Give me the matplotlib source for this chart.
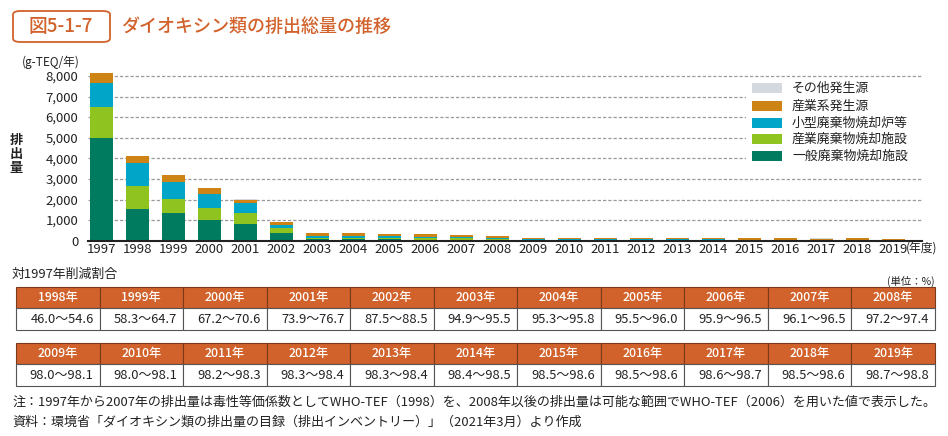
import matplotlib.pyplot as plt
from matplotlib.patches import Rectangle, FancyBboxPatch
import numpy as np

plt.rcParams['font.family'] = ['Noto Sans CJK JP', 'DejaVu Sans']

# データ (g-TEQ/年)
years = list(range(1997, 2020))
ippan = [5000, 1550, 1350, 1019, 812, 370, 71, 64, 62, 54, 52, 36, 33, 33, 32, 30, 29, 27, 25, 24, 23, 22, 21]
sangyo_haiki = [1505, 1100, 690, 555, 533, 265, 75, 70, 73, 60, 56, 30, 25, 25, 24, 23, 22, 21, 20, 19, 19, 19, 18]
kogata = [1150, 1130, 820, 710, 480, 120, 105, 95, 90, 85, 80, 50, 17, 17, 15, 14, 13, 12, 11, 11, 10, 10, 9]
sangyokei = [470, 330, 330, 257, 175, 165, 140, 125, 115, 105, 105, 95, 75, 75, 65, 62, 62, 58, 53, 55, 52, 60, 48]
sonota = [7, 7, 7, 7, 7, 6, 6, 6, 5, 5, 5, 5, 4, 4, 4, 4, 4, 4, 4, 4, 4, 4, 4]

series_names = ['一般廃棄物焼却施設', '産業廃棄物焼却施設', '小型廃棄物焼却炉等', '産業系発生源', 'その他発生源']
series_vals = [ippan, sangyo_haiki, kogata, sangyokei, sonota]
colors = ['#007b5f', '#8fc31f', '#00a5c8', '#cd8415', '#d3d9df']

# 対1997年削減割合 (%)
tbl_years_1 = ['1998年', '1999年', '2000年', '2001年', '2002年', '2003年', '2004年', '2005年', '2006年', '2007年', '2008年']
tbl_vals_1 = ['46.0〜54.6', '58.3〜64.7', '67.2〜70.6', '73.9〜76.7', '87.5〜88.5', '94.9〜95.5',
              '95.3〜95.8', '95.5〜96.0', '95.9〜96.5', '96.1〜96.5', '97.2〜97.4']
tbl_years_2 = ['2009年', '2010年', '2011年', '2012年', '2013年', '2014年', '2015年', '2016年', '2017年', '2018年', '2019年']
tbl_vals_2 = ['98.0〜98.1', '98.0〜98.1', '98.2〜98.3', '98.3〜98.4', '98.3〜98.4', '98.4〜98.5',
              '98.5〜98.6', '98.5〜98.6', '98.6〜98.7', '98.5〜98.6', '98.7〜98.8']

W, H = 948, 436
ORANGE = '#d2622b'
TXT = '#222222'


def fx(x):
    return x / W


def fy(y):
    return 1 - y / H


fig = plt.figure(figsize=(W / 100, H / 100), dpi=100)

# タイトル
fig.patches.append(FancyBboxPatch((fx(13), fy(42)), fx(97), 31 / H,
                                  boxstyle='round,pad=0,rounding_size=0.008',
                                  transform=fig.transFigure, fill=False,
                                  edgecolor=ORANGE, linewidth=1.3))
fig.text(fx(61), fy(26.5), '図5-1-7', fontsize=13.5, color=ORANGE, ha='center', va='center', fontweight='medium')
fig.text(fx(121), fy(26.5), 'ダイオキシン類の排出総量の推移', fontsize=13, color=ORANGE, ha='left', va='center',
         fontweight='medium')

# 棒グラフ
ax = fig.add_axes([fx(88), fy(240.7), 834 / W, 173 / H])
x = np.arange(len(years))
bottom = np.zeros(len(years))
for vals, col, name in zip(series_vals, colors, series_names):
    ax.bar(x, vals, width=0.64, bottom=bottom, color=col, zorder=3, linewidth=0, label=name)
    bottom += np.array(vals)

ax.set_xlim(-0.375, 22.79)
ax.set_ylim(0, 8400)
yt = list(range(0, 8001, 1000))
ax.set_yticks(yt)
ax.set_yticklabels([f'{v:,}' for v in yt])
ax.set_xticks(x)
ax.set_xticklabels([str(y) for y in years])
for v in yt[1:]:
    ax.axhline(v, color='#9a9a9a', lw=0.9, dashes=(2.6, 1.6), zorder=1)
for s in ['left', 'right', 'top']:
    ax.spines[s].set_visible(False)
ax.spines['bottom'].set_linewidth(1.5)
ax.spines['bottom'].set_color(TXT)
ax.spines['bottom'].set_zorder(4)
ax.tick_params(axis='y', length=0, labelsize=9.5, pad=7, colors=TXT)
ax.tick_params(axis='x', length=0, labelsize=9.5, pad=2, colors=TXT)

fig.text(fx(906), fy(248), '(年度)', fontsize=8.5, color=TXT, ha='left', va='center')
fig.text(fx(22), fy(62), '(g-TEQ/年)', fontsize=8.5, color=TXT, ha='left', va='center')
fig.text(fx(16), fy(154), '排\n出\n量', fontsize=9.5, color=TXT, ha='center', va='center',
         fontweight='bold', linespacing=1.0)

# 凡例 (背景でグリッドを隠す)
fig.patches.append(Rectangle((fx(746), fy(166)), 190 / W, 88 / H, transform=fig.transFigure,
                             facecolor='white', edgecolor='none', zorder=2))
leg_y = [88, 106, 123, 139, 156]
for i, yy in enumerate(leg_y):
    k = len(series_names) - 1 - i
    fig.patches.append(Rectangle((fx(752), fy(yy + 5)), 30 / W, 10 / H, transform=fig.transFigure,
                                 facecolor=colors[k], edgecolor='none', zorder=3))
    fig.text(fx(792), fy(yy), series_names[k], fontsize=9.3, color=TXT, ha='left', va='center', zorder=4)

# 表
fig.text(fx(12), fy(274), '対1997年削減割合', fontsize=9.3, color=TXT, ha='left', va='center')
fig.text(fx(935), fy(281), '(単位：%)', fontsize=7.5, color=TXT, ha='right', va='center')

x0, x1 = 16, 935
cw = (x1 - x0) / 11


def draw_table(top, heads, vals):
    hh, dh = 21, 22
    for i, (hd, v) in enumerate(zip(heads, vals)):
        cx = x0 + i * cw
        fig.patches.append(Rectangle((fx(cx), fy(top + hh)), cw / W, hh / H, transform=fig.transFigure,
                                     facecolor=ORANGE, edgecolor='#7a3a1c', linewidth=0.8))
        fig.patches.append(Rectangle((fx(cx), fy(top + hh + dh)), cw / W, dh / H, transform=fig.transFigure,
                                     facecolor='white', edgecolor='#555555', linewidth=0.8))
        fig.text(fx(cx + cw / 2), fy(top + hh / 2), hd, fontsize=8.8, color='white', ha='center', va='center',
                 fontweight='medium')
        fig.text(fx(cx + cw - 6), fy(top + hh + dh / 2), v, fontsize=9.3, color=TXT, ha='right', va='center')


draw_table(287, tbl_years_1, tbl_vals_1)
draw_table(343, tbl_years_2, tbl_vals_2)

# 注
fig.text(fx(12), fy(402), '注：1997年から2007年の排出量は毒性等価係数としてWHO-TEF（1998）を、2008年以後の排出量は'
         '可能な範囲でWHO-TEF（2006）を用いた値で表示した。', fontsize=9.4, color=TXT, ha='left', va='center')
fig.text(fx(12), fy(422), '資料：環境省「ダイオキシン類の排出量の目録（排出インベントリー）」（2021年3月）より作成',
         fontsize=9.4, color=TXT, ha='left', va='center')

fig.savefig('out.png', dpi=100)
